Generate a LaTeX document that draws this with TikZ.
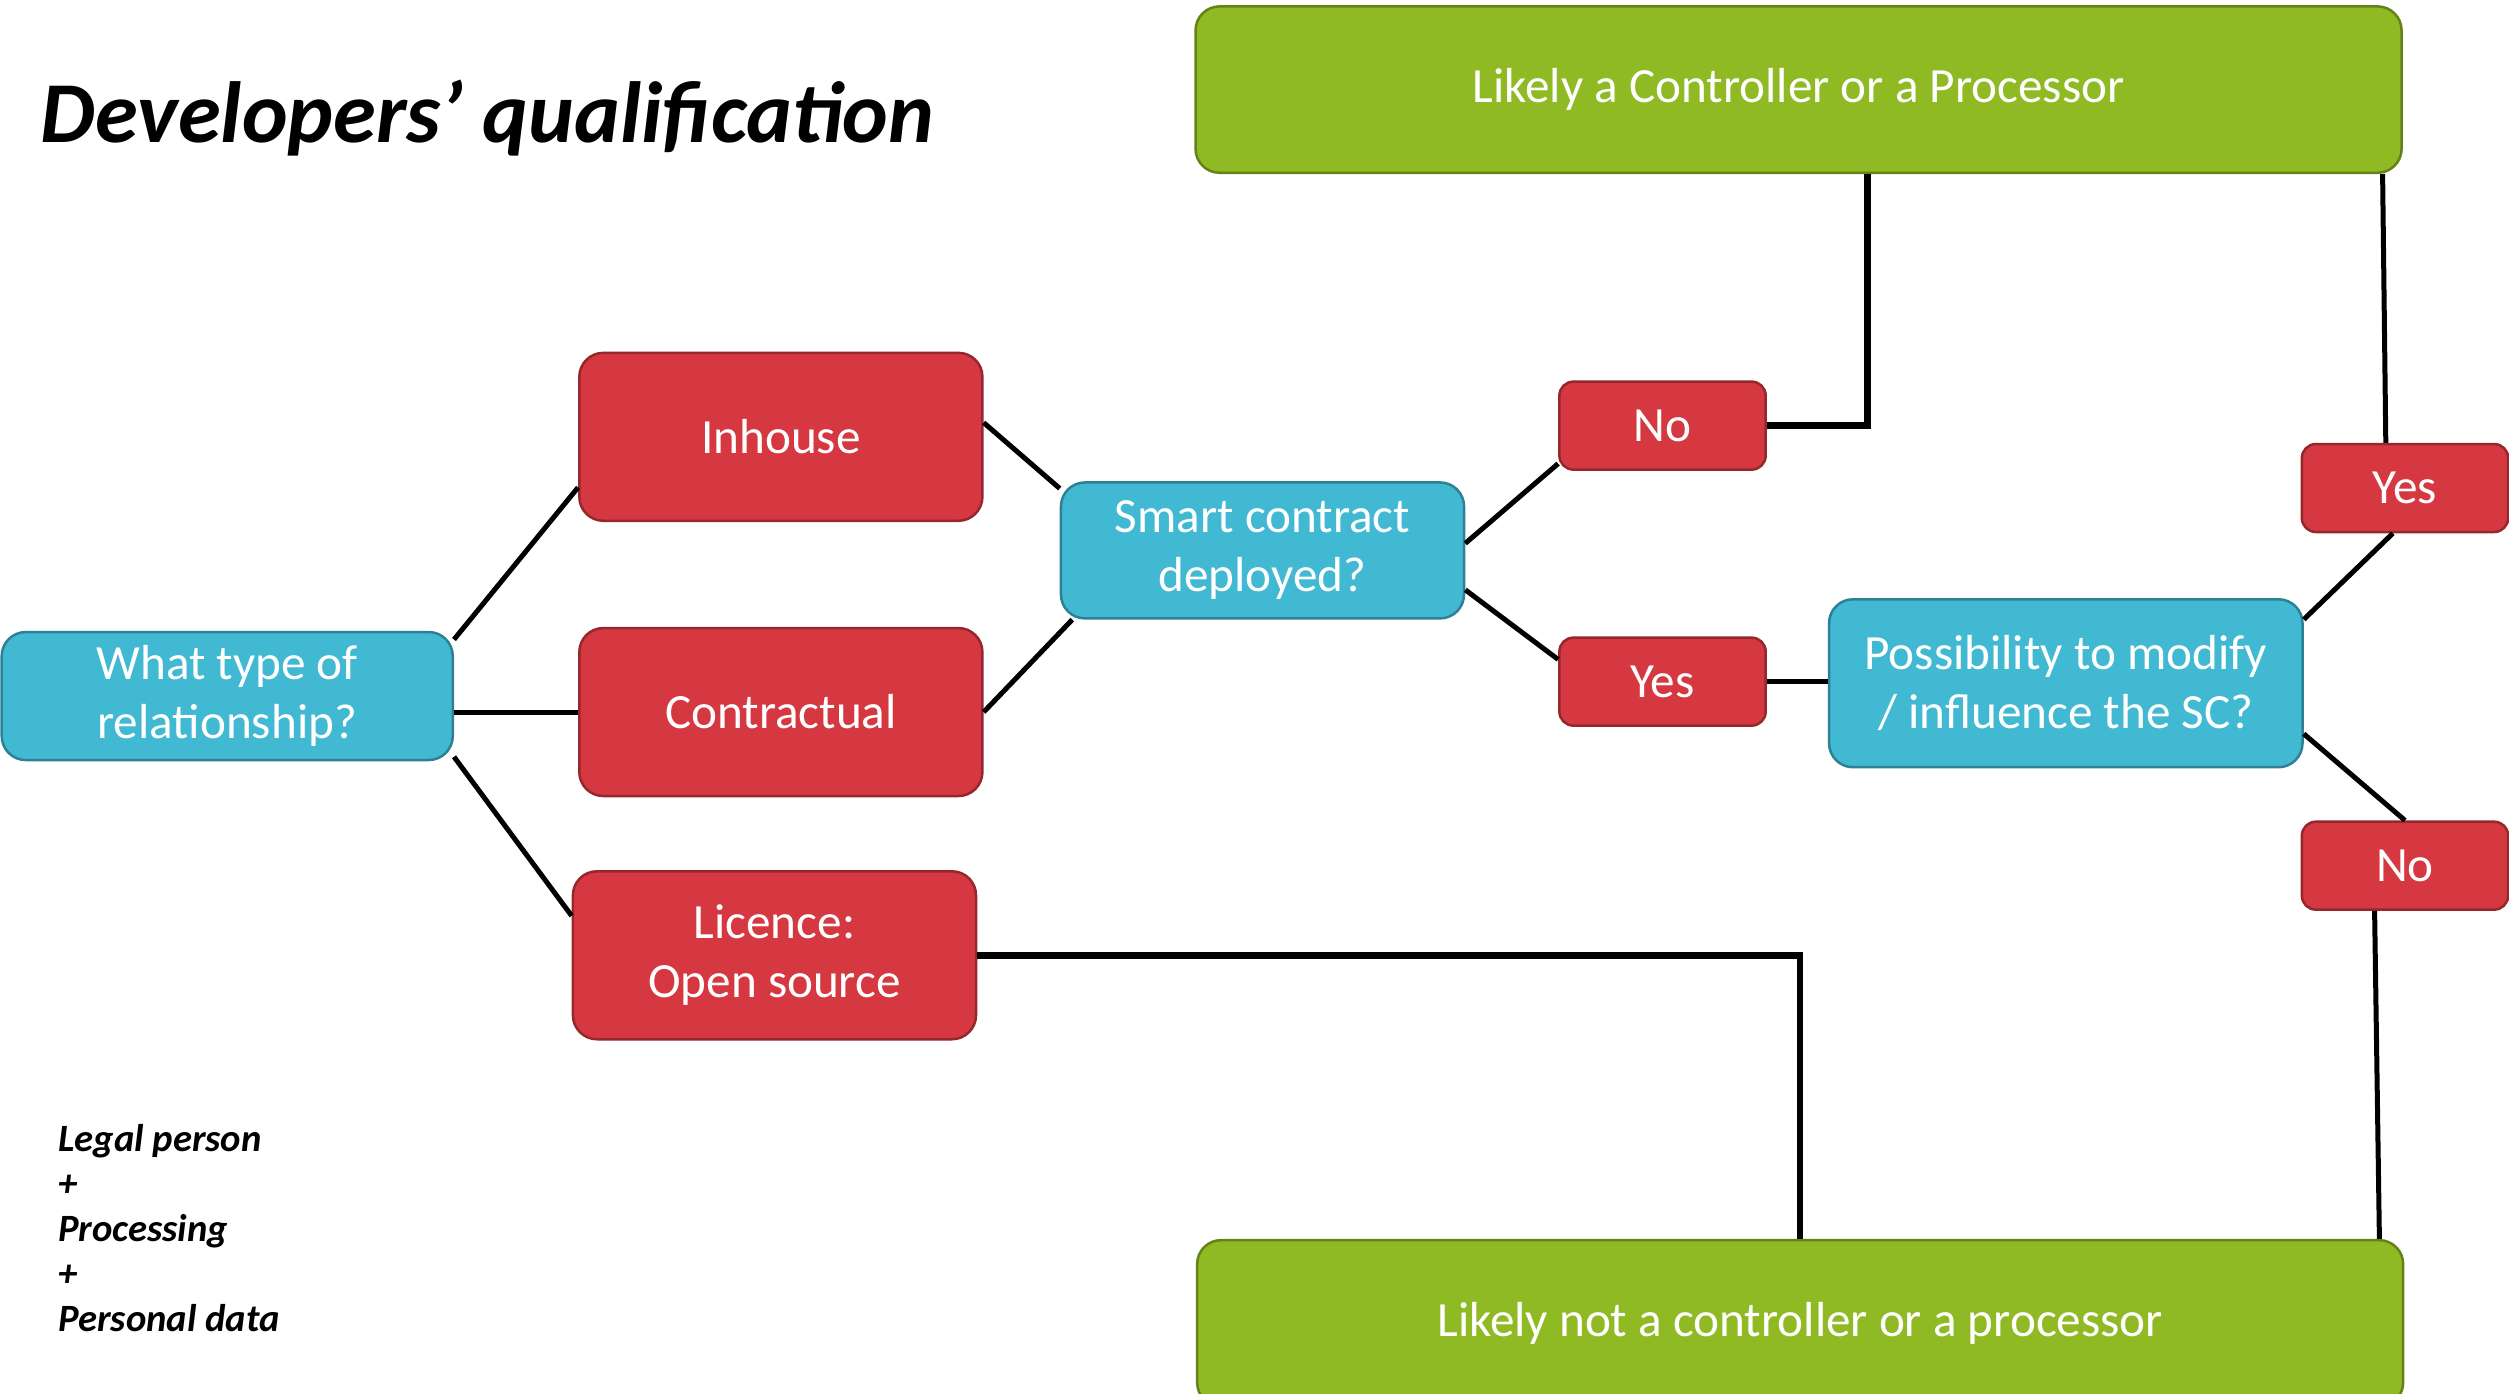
\documentclass[tikz,border=0pt]{standalone}
\usepackage{fontspec}
\setmainfont{Carlito}
\usetikzlibrary{calc}
\definecolor{qblue}{RGB}{66,185,211}
\definecolor{ared}{RGB}{213,56,64}
\definecolor{rgreen}{RGB}{144,186,36}

\begin{document}
\begin{tikzpicture}[x=0.016cm, y=-0.016cm,
		box/.style={draw=#1!70!black, fill=#1, text=white, align=center, line width=0.25mm, inner sep=0pt, rounded corners=0.24cm, font=\fontsize{14}{16.8}\selectfont},
		qbox/.style={box=qblue},
		abox/.style={box=ared, minimum width=4.032cm, minimum height=1.68cm},
		ansbox/.style={box=ared, minimum width=2.064cm, minimum height=0.88cm, rounded corners=0.14cm},
		rbox/.style={box=rgreen, minimum width=12.064cm, minimum height=1.664cm},
		link/.style={line width=0.5mm},
		biglink/.style={line width=0.66mm}
	]
		%%%%% START %%%%%
		
		\useasboundingbox (0,0) rectangle (1568,871);
		
		\node[anchor=base west, inner sep=0pt, font=\fontsize{24.7}{28}\selectfont\bfseries\itshape] (title) at (25,89) {Developers’ qualification};
		\node[anchor=base west, inner sep=0pt, align=left, font=\fontsize{11}{12.8}\selectfont\bfseries\itshape] (crit) at (36,832) {Legal person\\+\\Processing\\+\\Personal data};
		
		\node[rbox] (ctrl) at (1124,56) {Likely a Controller or a Processor};
		\node[rbox] (notctrl) at (1125,827) {Likely not a controller or a processor};
		
		\node[qbox, minimum width=4.512cm, minimum height=1.28cm] (rel) at (142,435) {What type of\\relationship?};
		\node[abox] (inh) at (488,273) {Inhouse};
		\node[abox] (con) at (488,445) {Contractual};
		\node[abox] (lic) at (484,597) {Licence:\\Open source};
		
		\node[qbox, minimum width=4.032cm, minimum height=1.36cm] (sc) at (789,344) {Smart contract\\deployed?};
		\node[ansbox] (scno) at (1039,266) {No};
		\node[ansbox] (scyes) at (1039,426) {Yes};
		
		\node[qbox, minimum width=4.736cm, minimum height=1.68cm] (mod) at (1291,427) {Possibility to modify\\/ influence the SC?};
		\node[ansbox] (modyes) at (1503,305) {Yes};
		\node[ansbox] (modno) at (1503,541) {No};
		
		\draw[link] (rel.14) -- (inh.194);
		\draw[link] (con.west) -- (con.west -| rel.east);
		\draw[link] (rel.-15) -- (lic.169);
		
		\draw[link] (inh.4) -- (sc.163);
		\draw[link] (con.0) -- (sc.200);
		
		\draw[link] (sc.2) -- (scno.200);
		\draw[link] (sc.-11) -- (scyes.168);
		\draw[biglink] (scno.east) -| ($(ctrl.south)+(43,0)$);
		\draw[link] (scyes.east) -- (mod.west |- scyes.east);
		
		\draw[link] (mod.15) -- (modyes.255);
		\draw[link] (mod.-12) -- (modno.north);
		\draw[link] ($(modyes.north)+(-12,0)$) -- ($(ctrl.south)+(365,0)$);
		\draw[link] ($(modno.south)+(-19,0)$) -- ($(notctrl.north)+(362,0)$);
		
		\draw[biglink] (lic.east) -| (notctrl.north);
		
		%%%%% END %%%%%
\end{tikzpicture}
\end{document}
